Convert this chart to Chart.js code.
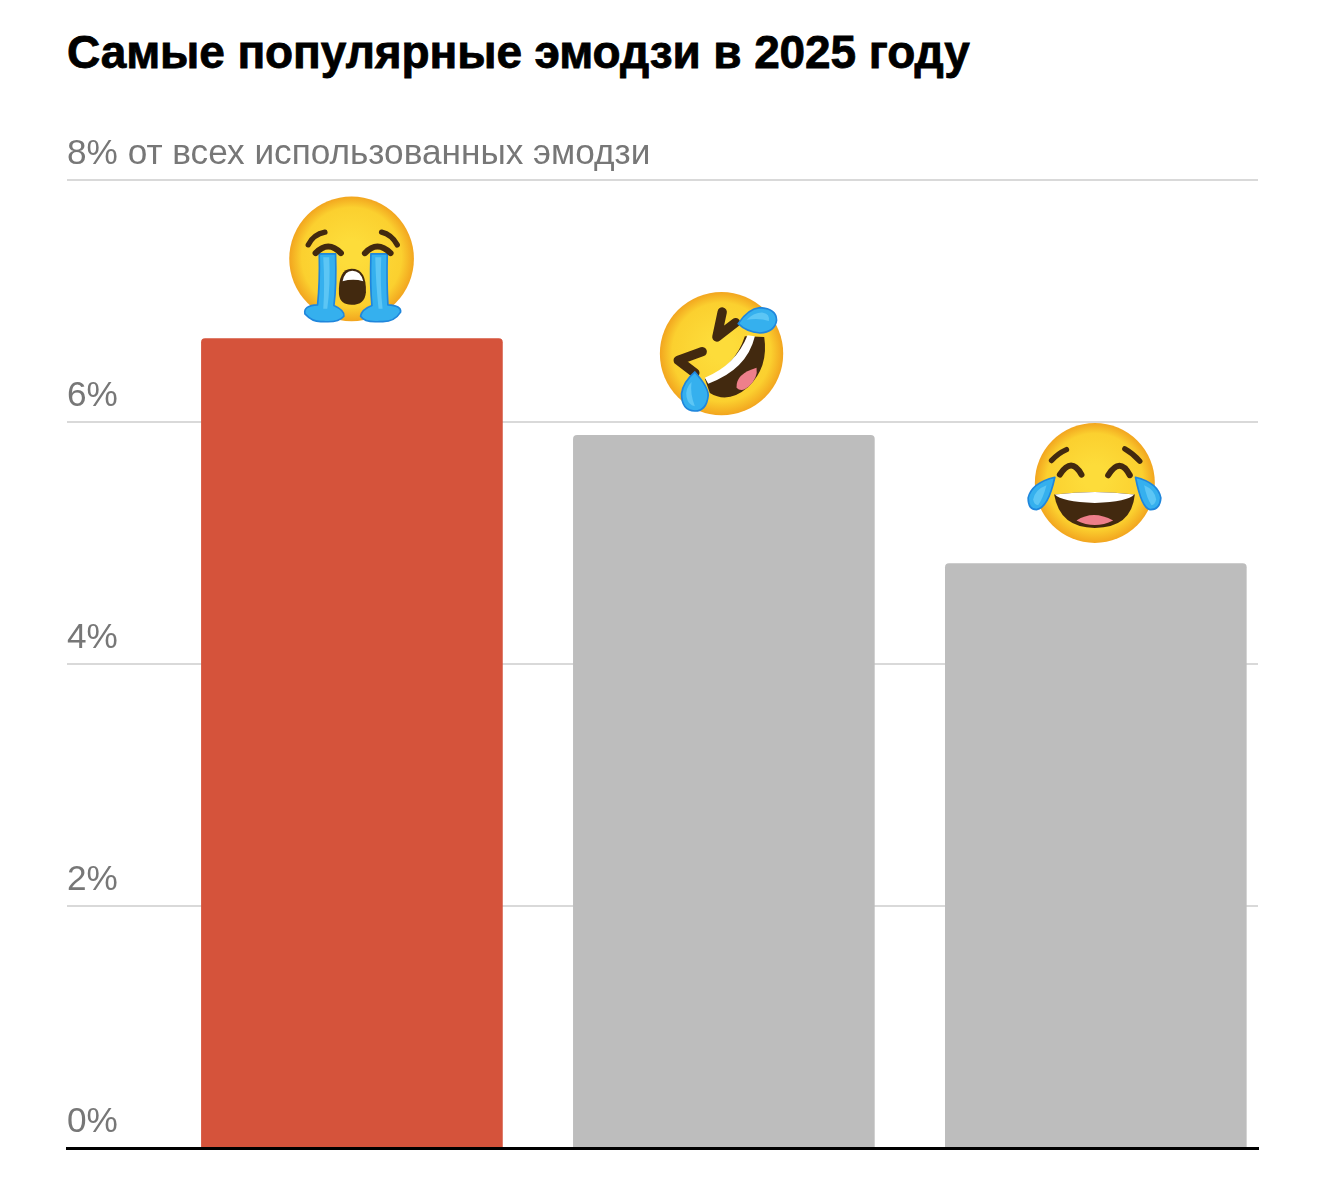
<!DOCTYPE html>
<html lang="ru">
<head>
<meta charset="utf-8">
<title>Самые популярные эмодзи в 2025 году</title>
<script src="https://cdn.jsdelivr.net/npm/chart.js@4/dist/chart.umd.min.js"></script>
<style>
  html, body { margin: 0; padding: 0; background: #fff; }
  #wrap { position: relative; width: 1324px; height: 1188px; overflow: hidden; }
  h1 {
    position: absolute; left: 67px; top: 25px; margin: 0;
    font: bold 46px "Liberation Sans", Arial, sans-serif;
    line-height: 54px; color: #000; white-space: nowrap;
    letter-spacing: -0.1px;
    -webkit-text-stroke: 0.8px #000;
  }
  canvas { position: absolute; left: 0; top: 0; }
</style>
</head>
<body>
<div id="wrap">
  <h1>Самые популярные эмодзи в 2025 году</h1>
  <canvas id="chart" width="1324" height="1188"></canvas>
</div>
<script>
// data
const emojiNames = ['Громко плачущее лицо', 'Катается от смеха', 'Слёзы радости'];
const ranks = [1, 2, 3];
const shares = [6.69, 5.89, 4.83];
const barColors = ['#d5533b', '#bdbdbd', '#bdbdbd'];
const tickLabels = ['0%', '2%', '4%', '6%', '8% от всех использованных эмодзи'];

const BLUE = '#35b0ee', BLUE_EDGE = '#1f86dc', BLUE_LIGHT = '#5cc6f5';
const DARK = '#42290f', PINK = '#ee7f8a';

// one stroke or fill on a path written in the 480x480 box of the emoji
function fillPath(c, d, color) { c.fillStyle = color; c.fill(new Path2D(d)); }
function strokePath(c, d, color, w) {
  c.strokeStyle = color; c.lineWidth = w;
  c.lineCap = 'round'; c.lineJoin = 'round';
  c.stroke(new Path2D(d));
}
function face(c, x, y, r) {
  const g = c.createRadialGradient(x, y - r * 0.1, r * 0.2, x, y, r);
  g.addColorStop(0, '#fddc3a');
  g.addColorStop(0.75, '#fbd02f');
  g.addColorStop(1, '#f2a51f');
  c.fillStyle = g;
  c.beginPath(); c.arc(x, y, r, 0, Math.PI * 2); c.fill();
}
function drop(c, d) {
  fillPath(c, d, BLUE);
  strokePath(c, d, BLUE_EDGE, 5);
}

function cryingFace(c) {
  face(c, 245, 220, 187);
  strokePath(c, 'M115 178 Q130 147 165 140', DARK, 16);
  strokePath(c, 'M382 178 Q365 147 335 140', DARK, 16);
  // tears
  const left = 'M148 205 L197 205 Q200 300 192 360 Q225 375 222 392 Q205 412 160 408 Q130 412 105 385 Q100 360 143 358 Q150 290 148 205 Z';
  const right = 'M303 205 L352 205 Q350 290 354 358 Q395 360 392 380 Q372 412 330 408 Q285 412 272 392 Q275 372 306 360 Q300 300 303 205 Z';
  drop(c, left); drop(c, right);
  fillPath(c, 'M160 215 L178 215 Q182 300 172 370 L160 370 Q165 300 160 215 Z', BLUE_LIGHT);
  fillPath(c, 'M316 215 L334 215 Q330 300 338 370 L326 370 Q318 300 316 215 Z', BLUE_LIGHT);
  strokePath(c, 'M137 203 Q175 163 213 203', DARK, 18);
  strokePath(c, 'M285 203 Q322 163 362 203', DARK, 18);
  // mouth
  fillPath(c, 'M207 325 Q205 250 245 250 Q290 250 288 320 Q285 358 245 358 Q210 358 207 325 Z', DARK);
  fillPath(c, 'M218 287 Q225 256 247 256 Q272 256 280 287 Q250 279 218 287 Z', '#fff');
}

function rollingFace(c) {
  face(c, 230, 220, 185);
  // mouth
  fillPath(c, 'M300 168 L358 170 Q372 260 310 320 Q250 372 195 338 L180 295 Q270 260 300 168 Z', DARK);
  fillPath(c, 'M308 165 L330 168 Q306 268 190 310 L180 292 Q272 255 308 165 Z', '#fff');
  fillPath(c, 'M275 322 Q272 280 335 262 Q340 292 312 318 Q290 338 275 322 Z', PINK);
  // eyes
  strokePath(c, 'M232 95 L216 170 L272 127', DARK, 28);
  strokePath(c, 'M172 214 L100 240 L150 278', DARK, 28);
  // tears
  drop(c, 'M280 130 Q310 85 345 82 Q395 85 395 120 Q390 155 345 158 Q305 155 280 130 Z');
  fillPath(c, 'M305 118 Q330 95 355 97 Q375 100 372 122 Q345 112 305 118 Z', BLUE_LIGHT);
  drop(c, 'M150 275 Q190 320 190 345 Q185 392 150 392 Q110 390 110 340 Q115 305 150 275 Z');
  fillPath(c, 'M140 305 Q120 325 125 350 Q130 375 150 378 Q135 340 140 305 Z', BLUE_LIGHT);
}

function joyFace(c) {
  face(c, 240, 205, 180);
  strokePath(c, 'M110 138 Q128 117 155 105', DARK, 16);
  strokePath(c, 'M375 140 Q355 117 330 103', DARK, 16);
  strokePath(c, 'M135 180 Q170 125 200 180', DARK, 18);
  strokePath(c, 'M280 182 Q315 125 345 182', DARK, 18);
  // mouth
  fillPath(c, 'M118 240 Q240 225 360 240 Q350 340 240 340 Q135 340 118 240 Z', DARK);
  fillPath(c, 'M120 240 Q240 224 358 240 Q340 262 240 265 Q140 262 120 240 Z', '#fff');
  fillPath(c, 'M185 318 Q235 285 295 318 Q240 345 185 318 Z', PINK);
  // tears
  drop(c, 'M120 188 Q100 280 65 285 Q40 285 40 250 Q50 205 120 188 Z');
  fillPath(c, 'M95 212 Q60 225 55 255 Q58 272 70 272 Q85 250 95 212 Z', BLUE_LIGHT);
  drop(c, 'M362 188 Q430 205 438 250 Q435 287 405 285 Q380 280 362 188 Z');
  fillPath(c, 'M388 212 Q420 225 424 255 Q420 272 410 272 Q395 250 388 212 Z', BLUE_LIGHT);
}

// emojis sit on top of their bars, so they follow the bar elements
const emojiPlugin = {
  id: 'emojis',
  afterDatasetsDraw(ch) {
    const c = ch.ctx;
    const bars = ch.getDatasetMeta(0).data;
    const art = [cryingFace, rollingFace, joyFace];
    const shift = [[-2, -73], [1, -75], [-1, -69]];
    bars.forEach((bar, i) => {
      c.save();
      c.translate(bar.x + shift[i][0], bar.y + shift[i][1]);
      c.scale(1 / 3, 1 / 3);
      c.translate(-240, -240);
      art[i](c);
      c.restore();
    });
  }
};

new Chart(document.getElementById('chart'), {
  type: 'bar',
  data: {
    labels: emojiNames,
    datasets: [{
      data: ranks.map((r, i) => ({ x: r, y: shares[i] })),
      backgroundColor: barColors,
      barThickness: 301,
      borderRadius: { topLeft: 4, topRight: 4 },
      borderSkipped: 'bottom'
    }]
  },
  options: {
    responsive: false,
    animation: false,
    layout: { padding: { left: 67, right: 66, top: 180, bottom: 32 } },
    plugins: { legend: { display: false }, tooltip: { enabled: false } },
    scales: {
      x: {
        type: 'linear',
        offset: false,
        min: 0.234,
        max: 3.436,
        grid: { display: false },
        ticks: { display: false },
        border: { color: '#000', width: 3, z: 1 }
      },
      y: {
        min: 0,
        max: 8,
        // two-line tick labels would otherwise push the plot up from the bottom
        afterFit: (scale) => { scale.paddingBottom = 0; },
        grid: { color: '#d9d9d9', lineWidth: 2, drawTicks: false },
        border: { display: false },
        ticks: {
          stepSize: 2,
          mirror: true,
          padding: 0,
          color: '#777',
          font: { family: '"Liberation Sans", Arial, sans-serif', size: 35.2, lineHeight: 52 / 35.2 },
          // empty second line lifts the label above its grid line
          callback: (v, i) => [tickLabels[i], '']
        }
      }
    }
  },
  plugins: [emojiPlugin]
});
</script>
</body>
</html>
